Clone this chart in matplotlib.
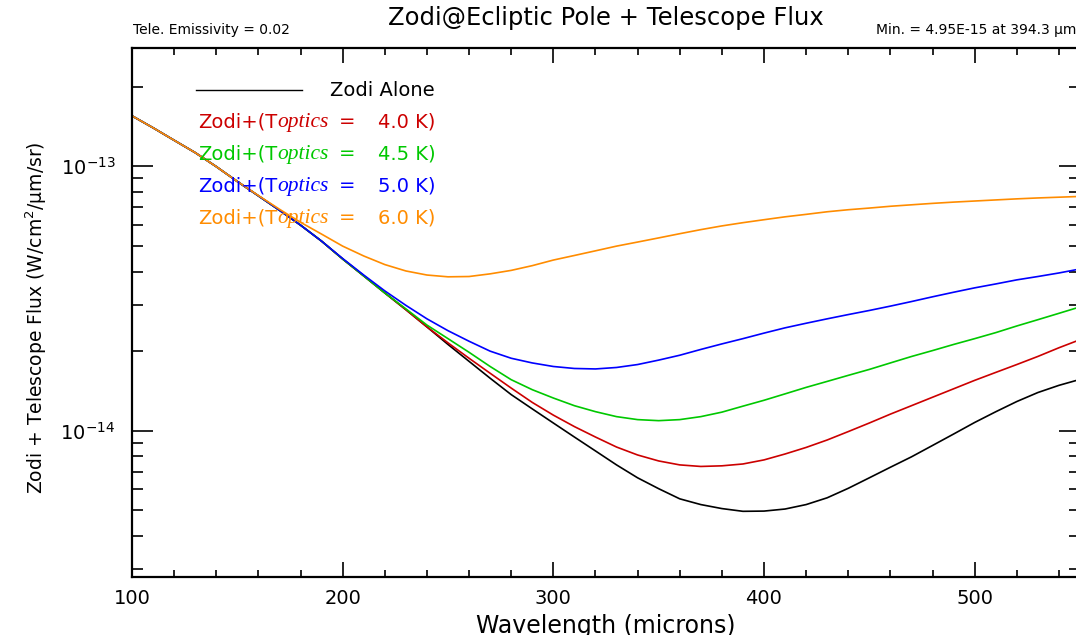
import matplotlib
matplotlib.use("Agg")
import matplotlib.pyplot as plt
from matplotlib.ticker import MultipleLocator, NullFormatter, LogLocator
import numpy as np

# wavelength grid (microns)
wavelength = [100, 110, 120, 130, 140, 150, 160, 170, 180, 190,
              200, 210, 220, 230, 240, 250, 260, 270, 280, 290,
              300, 310, 320, 330, 340, 350, 360, 370, 380, 390,
              400, 410, 420, 430, 440, 450, 460, 470, 480, 490,
              500, 510, 520, 530, 540, 550]

# flux, W/cm^2/um/sr
zodi_alone = [1.551e-13, 1.398e-13, 1.254e-13, 1.126e-13, 9.97e-14, 8.76e-14, 7.73e-14, 6.82e-14, 5.99e-14, 5.21e-14,
              4.46e-14, 3.85e-14, 3.32e-14, 2.87e-14, 2.47e-14, 2.12e-14, 1.83e-14, 1.58e-14, 1.37e-14, 1.21e-14,
              1.07e-14, 9.47e-15, 8.39e-15, 7.43e-15, 6.64e-15, 6.04e-15, 5.53e-15, 5.26e-15, 5.08e-15, 4.96e-15,
              4.97e-15, 5.06e-15, 5.26e-15, 5.58e-15, 6.06e-15, 6.64e-15, 7.28e-15, 7.97e-15, 8.80e-15, 9.72e-15,
              1.075e-14, 1.18e-14, 1.29e-14, 1.395e-14, 1.485e-14, 1.564e-14]
zodi_4p0 = [1.551e-13, 1.398e-13, 1.254e-13, 1.126e-13, 9.97e-14, 8.76e-14, 7.73e-14, 6.82e-14, 5.99e-14, 5.21e-14,
            4.46e-14, 3.85e-14, 3.32e-14, 2.87e-14, 2.47e-14, 2.15e-14, 1.88e-14, 1.65e-14, 1.45e-14, 1.28e-14,
            1.146e-14, 1.037e-14, 9.47e-15, 8.68e-15, 8.10e-15, 7.69e-15, 7.43e-15, 7.33e-15, 7.37e-15, 7.49e-15,
            7.76e-15, 8.17e-15, 8.65e-15, 9.23e-15, 9.93e-15, 1.07e-14, 1.156e-14, 1.244e-14, 1.339e-14, 1.441e-14,
            1.551e-14, 1.662e-14, 1.78e-14, 1.91e-14, 2.06e-14, 2.21e-14]
zodi_4p5 = [1.551e-13, 1.398e-13, 1.254e-13, 1.126e-13, 9.97e-14, 8.76e-14, 7.73e-14, 6.82e-14, 5.99e-14, 5.21e-14,
            4.46e-14, 3.85e-14, 3.32e-14, 2.89e-14, 2.51e-14, 2.23e-14, 1.98e-14, 1.75e-14, 1.56e-14, 1.43e-14,
            1.33e-14, 1.244e-14, 1.181e-14, 1.131e-14, 1.102e-14, 1.092e-14, 1.102e-14, 1.131e-14, 1.176e-14, 1.239e-14,
            1.304e-14, 1.379e-14, 1.459e-14, 1.537e-14, 1.62e-14, 1.706e-14, 1.805e-14, 1.909e-14, 2.01e-14, 2.12e-14,
            2.23e-14, 2.35e-14, 2.49e-14, 2.63e-14, 2.78e-14, 2.94e-14]
zodi_5p0 = [1.551e-13, 1.398e-13, 1.254e-13, 1.126e-13, 9.97e-14, 8.76e-14, 7.73e-14, 6.82e-14, 5.99e-14, 5.21e-14,
            4.48e-14, 3.88e-14, 3.38e-14, 2.98e-14, 2.65e-14, 2.39e-14, 2.18e-14, 2.00e-14, 1.88e-14, 1.805e-14,
            1.75e-14, 1.72e-14, 1.713e-14, 1.735e-14, 1.78e-14, 1.85e-14, 1.93e-14, 2.03e-14, 2.13e-14, 2.23e-14,
            2.34e-14, 2.45e-14, 2.55e-14, 2.65e-14, 2.75e-14, 2.85e-14, 2.96e-14, 3.08e-14, 3.21e-14, 3.34e-14,
            3.47e-14, 3.59e-14, 3.72e-14, 3.83e-14, 3.95e-14, 4.09e-14]
zodi_6p0 = [1.551e-13, 1.398e-13, 1.254e-13, 1.126e-13, 9.97e-14, 8.76e-14, 7.75e-14, 6.88e-14, 6.14e-14, 5.54e-14,
            4.99e-14, 4.58e-14, 4.25e-14, 4.02e-14, 3.88e-14, 3.82e-14, 3.83e-14, 3.92e-14, 4.04e-14, 4.21e-14,
            4.42e-14, 4.60e-14, 4.79e-14, 4.99e-14, 5.17e-14, 5.36e-14, 5.56e-14, 5.76e-14, 5.95e-14, 6.12e-14,
            6.28e-14, 6.44e-14, 6.58e-14, 6.73e-14, 6.85e-14, 6.95e-14, 7.06e-14, 7.15e-14, 7.24e-14, 7.32e-14,
            7.39e-14, 7.46e-14, 7.53e-14, 7.59e-14, 7.64e-14, 7.69e-14]

temps = ["4.0", "4.5", "5.0", "6.0"]
series = [zodi_4p0, zodi_4p5, zodi_5p0, zodi_6p0]
colors = ["#cc0000", "#00c800", "#0000ff", "#ff8c00"]

W, H = 1076, 635
plt.rcParams.update({"font.family": "DejaVu Sans", "mathtext.fontset": "dejavusans"})

fig = plt.figure(figsize=(W / 100, H / 100), dpi=100)
fig.patch.set_facecolor("white")
# right spine sits just past the canvas edge, like the reference
ax = fig.add_axes([132 / W, 58 / H, 948 / W, 529 / H])

ax.plot(wavelength, zodi_alone, color="black", lw=1.2)
for vals, c in zip(series, colors):
    ax.plot(wavelength, vals, color=c, lw=1.2)

ax.set_yscale("log")
ax.set_xlim(100, 550)
ax.set_ylim(2.8e-15, 2.8e-13)

ax.xaxis.set_major_locator(MultipleLocator(100))
ax.xaxis.set_minor_locator(MultipleLocator(20))
ax.yaxis.set_major_locator(LogLocator(base=10))
ax.yaxis.set_minor_locator(LogLocator(base=10, subs=np.arange(2, 10)))
ax.yaxis.set_minor_formatter(NullFormatter())

ax.tick_params(which="both", direction="in", top=True, right=True, width=1.2, labelsize=14)
ax.tick_params(axis="x", which="major", length=11, pad=9)
ax.tick_params(axis="x", which="minor", length=5)
ax.tick_params(axis="y", which="major", length=15, pad=12)
ax.tick_params(axis="y", which="minor", length=8)
for sp in ax.spines.values():
    sp.set_linewidth(1.6)

ax.set_xlabel("Wavelength (microns)", fontsize=17, labelpad=4)
ax.set_ylabel("Zodi + Telescope Flux (W/cm$^2$/\u03bcm/sr)", fontsize=13.5)
ax.yaxis.set_label_coords(-0.088, 0.49)


def px(x, y):
    return x / W, 1 - y / H


fig.text(*px(606, 18), "Zodi@Ecliptic Pole + Telescope Flux", fontsize=17.5,
         ha="center", va="center")
fig.text(*px(133, 30), "Tele. Emissivity = 0.02", fontsize=10, ha="left", va="center")
fig.text(*px(1076, 30), "Min. = 4.95E-15 at 394.3 \u03bcm", fontsize=10, ha="right", va="center")

# hand-made legend
ax.plot([(196 - 132) / 948, (302 - 132) / 948], [(577 - 90) / 529] * 2,
        color="black", lw=1.0, transform=ax.transAxes)
fig.text(*px(330, 90), "Zodi Alone", fontsize=14, ha="left", va="center")
for i, (t, c) in enumerate(zip(temps, colors)):
    y = 122 + 32 * i
    fig.text(*px(198, y), "Zodi+(T", fontsize=14, color=c, ha="left", va="center")
    fig.text(*px(277, y + 1), "optics", fontsize=15.5, color=c, ha="left", va="center",
             family="Liberation Serif", style="italic")
    fig.text(*px(339, y), "=", fontsize=14, color=c, ha="left", va="center")
    fig.text(*px(378, y), f"{t} K)", fontsize=14, color=c, ha="left", va="center")

fig.savefig("out.png", dpi=100, facecolor="white")
